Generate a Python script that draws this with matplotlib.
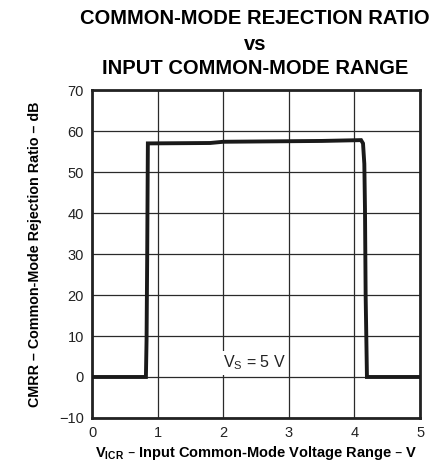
import matplotlib
matplotlib.use("Agg")
import matplotlib.pyplot as plt

plt.rcParams['font.family'] = ['Liberation Sans', 'DejaVu Sans']

# curve
vicr = [0.0, 0.82, 0.83, 0.84, 0.85, 1.8, 2.0, 3.5, 4.1, 4.13, 4.15, 4.16, 4.17, 4.19, 5.0]
cmrr = [0.0, 0.0, 9.0, 30.0, 57.0, 57.1, 57.4, 57.6, 57.8, 57.0, 52.0, 41.0, 20.0, 0.0, 0.0]

x_ticks = [0, 1, 2, 3, 4, 5]
y_ticks = [-10, 0, 10, 20, 30, 40, 50, 60, 70]
y_labels = ['\u221210', '0', '10', '20', '30', '40', '50', '60', '70']

fig = plt.figure(figsize=(4.45, 4.67), dpi=100)
ax = fig.add_axes([0.207, 0.105, 0.737, 0.702])

ax.plot(vicr, cmrr, c='#1a1a1a', lw=2.8, solid_joinstyle='miter', zorder=3)

ax.set_xlim(0, 5)
ax.set_ylim(-10, 70)
ax.set_xticks(x_ticks)
ax.set_yticks(y_ticks)
ax.set_yticklabels(y_labels)
ax.tick_params(length=0, labelsize=10.5, colors='#222222', pad=6)
ax.grid(True, color='#2a2a2a', lw=0.9)
for s in ax.spines.values():
    s.set_linewidth(2)
    s.set_color('#222222')

ax.text(2.47, 3.4, 'V$_\\mathregular{S}$ = 5 V', ha='center', va='center', fontsize=11.5,
        color='#222222', bbox=dict(facecolor='white', edgecolor='none', pad=2), zorder=4)

ax.set_xlabel('V$_\\mathregular{ICR}$ \u2013 Input Common-Mode Voltage Range \u2013 V',
              fontsize=10.5, fontweight='bold', labelpad=3)
ax.set_ylabel('CMRR \u2013 Common-Mode Rejection Ratio \u2013 dB',
              fontsize=10.3, fontweight='bold', labelpad=12)

fig.text(0.573, 0.960, 'COMMON-MODE REJECTION RATIO', ha='center', va='center',
         fontsize=14.5, fontweight='bold')
fig.text(0.573, 0.905, 'vs', ha='center', va='center', fontsize=14.5, fontweight='bold')
fig.text(0.573, 0.854, 'INPUT COMMON-MODE RANGE', ha='center', va='center',
         fontsize=14.5, fontweight='bold')

fig.savefig('out.png', dpi=100)
